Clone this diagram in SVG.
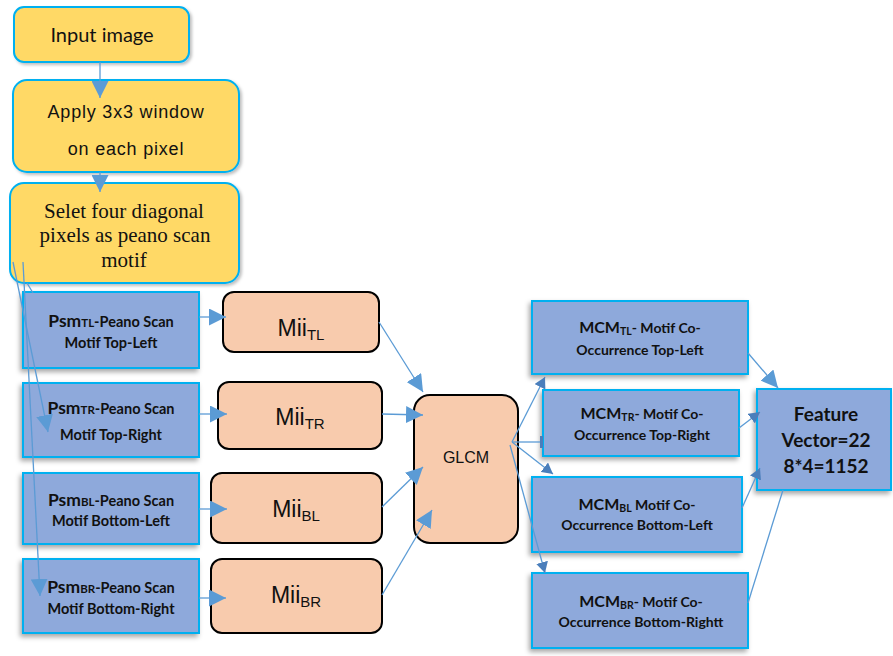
<svg xmlns="http://www.w3.org/2000/svg" width="893" height="656" viewBox="0 0 893 656">
<defs>
<filter id="sh" x="-20%" y="-20%" width="140%" height="150%">
<feDropShadow dx="-2" dy="3" stdDeviation="2.5" flood-color="#000" flood-opacity="0.35"/>
</filter>
<filter id="shy" x="-10%" y="-10%" width="125%" height="130%">
<feDropShadow dx="2" dy="2" stdDeviation="1.5" flood-color="#000" flood-opacity="0.25"/>
</filter>
<marker id="ah" markerUnits="userSpaceOnUse" markerWidth="18" markerHeight="17" refX="17" refY="8.5" orient="auto" viewBox="0 0 18 17">
<path d="M0,0 L17,8.5 L0,17 z" fill="#5B9BD5"/>
</marker>
<marker id="ahs" markerUnits="userSpaceOnUse" markerWidth="12" markerHeight="12" refX="11" refY="6" orient="auto" viewBox="0 0 12 12">
<path d="M0,0 L11,6 L0,12 z" fill="#4A7EBB"/>
</marker>
</defs>
<style>
.yel{fill:#FFD966;stroke:#00B0F0;stroke-width:2}
.blu{fill:#8EA9DB;stroke:#00B0F0;stroke-width:2}
.pch{fill:#F8CBAD;stroke:#000;stroke-width:2}
.lab{font-family:Lato,"Liberation Sans",sans-serif;font-weight:bold;fill:#111;text-anchor:middle}
.mii{font-family:"Liberation Sans",Arial,sans-serif;font-size:23px;fill:#111;text-anchor:middle}
.c{fill:none;stroke:#5B9BD5;stroke-width:1.3}
.big{marker-end:url(#ah)}
.sm{marker-end:url(#ahs)}
</style>

<g id="input-image">
<rect class="yel" x="14" y="7" width="175" height="55" rx="10" filter="url(#shy)"/>
<text x="102" y="42" font-family="Lato,'Liberation Sans',sans-serif" font-size="20" fill="#111" text-anchor="middle">Input image</text>
</g>
<g id="apply-window">
<rect class="yel" x="13" y="80" width="226" height="92" rx="14" filter="url(#shy)"/>
<text x="126" y="118" font-family="'Liberation Sans',Arial,sans-serif" font-size="18" letter-spacing="0.8" fill="#111" text-anchor="middle">Apply 3x3 window</text>
<text x="126" y="155" font-family="'Liberation Sans',Arial,sans-serif" font-size="18" letter-spacing="0.8" fill="#111" text-anchor="middle">on each pixel</text>
</g>
<g id="select-motif">
<rect class="yel" x="10" y="183" width="229" height="100" rx="14" filter="url(#shy)"/>
<text x="124" y="218" font-family="'Liberation Serif','Times New Roman',serif" font-size="21" fill="#111" text-anchor="middle">Selet four diagonal</text>
<text x="125" y="242" font-family="'Liberation Serif','Times New Roman',serif" font-size="21" fill="#111" text-anchor="middle">pixels as peano scan</text>
<text x="124" y="267" font-family="'Liberation Serif','Times New Roman',serif" font-size="21" fill="#111" text-anchor="middle">motif</text>
</g>

<g id="psm-tl">
<rect class="blu" x="23" y="292" width="176" height="76" filter="url(#sh)"/>
<text class="lab" x="111" y="327" font-size="14.5"><tspan font-size="17.5">Psm</tspan><tspan font-size="11.5">TL</tspan>-Peano Scan</text>
<text class="lab" x="111" y="348" font-size="14.5">Motif Top-Left</text>
</g>
<g id="psm-tr">
<rect class="blu" x="23" y="383" width="176" height="74" filter="url(#sh)"/>
<text class="lab" x="111" y="414" font-size="14.5"><tspan font-size="17.5">Psm</tspan><tspan font-size="11.5">TR</tspan>-Peano Scan</text>
<text class="lab" x="111" y="440" font-size="14.5">Motif Top-Right</text>
</g>
<g id="psm-bl">
<rect class="blu" x="23" y="473" width="176" height="71" filter="url(#sh)"/>
<text class="lab" x="111" y="506" font-size="14.5"><tspan font-size="17.5">Psm</tspan><tspan font-size="11.5">BL</tspan>-Peano Scan</text>
<text class="lab" x="111" y="526" font-size="14.5">Motif  Bottom-Left</text>
</g>
<g id="psm-br">
<rect class="blu" x="23" y="559" width="176" height="74" filter="url(#sh)"/>
<text class="lab" x="111" y="593" font-size="14.5"><tspan font-size="17.5">Psm</tspan><tspan font-size="11.5">BR</tspan>-Peano Scan</text>
<text class="lab" x="111" y="614" font-size="14.5">Motif Bottom-Right</text>
</g>

<g id="mii-tl">
<rect class="pch" x="223" y="292" width="156" height="60" rx="11"/>
<text class="mii" x="301" y="336">Mii<tspan font-size="15" dy="4">TL</tspan></text>
</g>
<g id="mii-tr">
<rect class="pch" x="218" y="382" width="164" height="67" rx="11"/>
<text class="mii" x="300" y="425">Mii<tspan font-size="15" dy="4">TR</tspan></text>
</g>
<g id="mii-bl">
<rect class="pch" x="211" y="473" width="171" height="70" rx="11"/>
<text class="mii" x="296" y="517">Mii<tspan font-size="15" dy="4">BL</tspan></text>
</g>
<g id="mii-br">
<rect class="pch" x="211" y="559" width="171" height="74" rx="11"/>
<text class="mii" x="296" y="603">Mii<tspan font-size="15" dy="4">BR</tspan></text>
</g>

<g id="glcm">
<rect class="pch" x="414" y="395" width="104" height="148" rx="16"/>
<text x="466" y="463" font-family="'Liberation Sans',Arial,sans-serif" font-size="16" fill="#111" text-anchor="middle">GLCM</text>
</g>

<g id="mcm-tl">
<rect class="blu" x="532" y="301" width="216" height="73" filter="url(#sh)"/>
<text class="lab" x="640" y="333" font-size="14"><tspan font-size="16">MCM</tspan><tspan font-size="10.5" dy="2">TL</tspan><tspan dy="-2">- Motif Co-</tspan></text>
<text class="lab" x="640" y="355" font-size="14">Occurrence Top-Left</text>
</g>
<g id="mcm-tr">
<rect class="blu" x="543" y="390" width="196" height="66" filter="url(#sh)"/>
<text class="lab" x="642" y="419" font-size="14"><tspan font-size="16">MCM</tspan><tspan font-size="10.5" dy="2">TR</tspan><tspan dy="-2">- Motif Co-</tspan></text>
<text class="lab" x="642" y="440" font-size="14">Occurrence Top-Right</text>
</g>
<g id="mcm-bl">
<rect class="blu" x="532" y="477" width="210" height="75" filter="url(#sh)"/>
<text class="lab" x="637" y="510" font-size="14"><tspan font-size="16">MCM</tspan><tspan font-size="10.5" dy="2">BL</tspan><tspan dy="-2"> Motif Co-</tspan></text>
<text class="lab" x="637" y="530" font-size="14">Occurrence Bottom-Left</text>
</g>
<g id="mcm-br">
<rect class="blu" x="532" y="573" width="216" height="75" filter="url(#sh)"/>
<text class="lab" x="641" y="607" font-size="14"><tspan font-size="16">MCM</tspan><tspan font-size="10.5" dy="2">BR</tspan><tspan dy="-2">- Motif Co-</tspan></text>
<text class="lab" x="641" y="627" font-size="14">Occurrence Bottom-Rightt</text>
</g>

<g id="feature-vector">
<rect class="blu" x="757" y="389" width="134" height="101" filter="url(#sh)"/>
<text class="lab" x="826" y="421" font-size="19">Feature</text>
<text class="lab" x="826" y="447" font-size="19">Vector=22</text>
<text class="lab" x="826" y="473" font-size="19">8*4=1152</text>
</g>

<g id="connectors">
<line class="c big" x1="100" y1="62" x2="100" y2="98"/>
<line class="c big" x1="100" y1="172" x2="100" y2="192"/>
<line class="c big" x1="13" y1="262" x2="48" y2="432"/>
<line class="c big" x1="23" y1="262" x2="40" y2="596"/>
<line class="c" x1="27" y1="283" x2="33" y2="293"/>
<line class="c big" x1="199" y1="317" x2="226" y2="317"/>
<line class="c big" x1="199" y1="414" x2="227" y2="414"/>
<line class="c big" x1="199" y1="509" x2="227" y2="509"/>
<line class="c big" x1="199" y1="598" x2="226" y2="598"/>
<line class="c big" x1="379" y1="322" x2="423" y2="392"/>
<line class="c big" x1="382" y1="414" x2="423" y2="415"/>
<line class="c big" x1="382" y1="507" x2="423" y2="467"/>
<line class="c big" x1="382" y1="595" x2="432" y2="510"/>
<line class="c sm" x1="512" y1="442" x2="545" y2="377"/>
<line class="c" x1="512" y1="442" x2="542" y2="442"/>
<rect x="540" y="436" width="3" height="12" fill="#4A7EBB"/>
<line class="c sm" x1="512" y1="442" x2="553" y2="474"/>
<line class="c sm" x1="510" y1="445" x2="545" y2="573"/>
<line class="c big" x1="748" y1="353" x2="778" y2="388"/>
<line class="c sm" x1="739" y1="428" x2="760" y2="412"/>
<line class="c sm" x1="742" y1="508" x2="760" y2="468"/>
<line class="c" x1="748" y1="603" x2="783" y2="490"/>
</g>
</svg>
